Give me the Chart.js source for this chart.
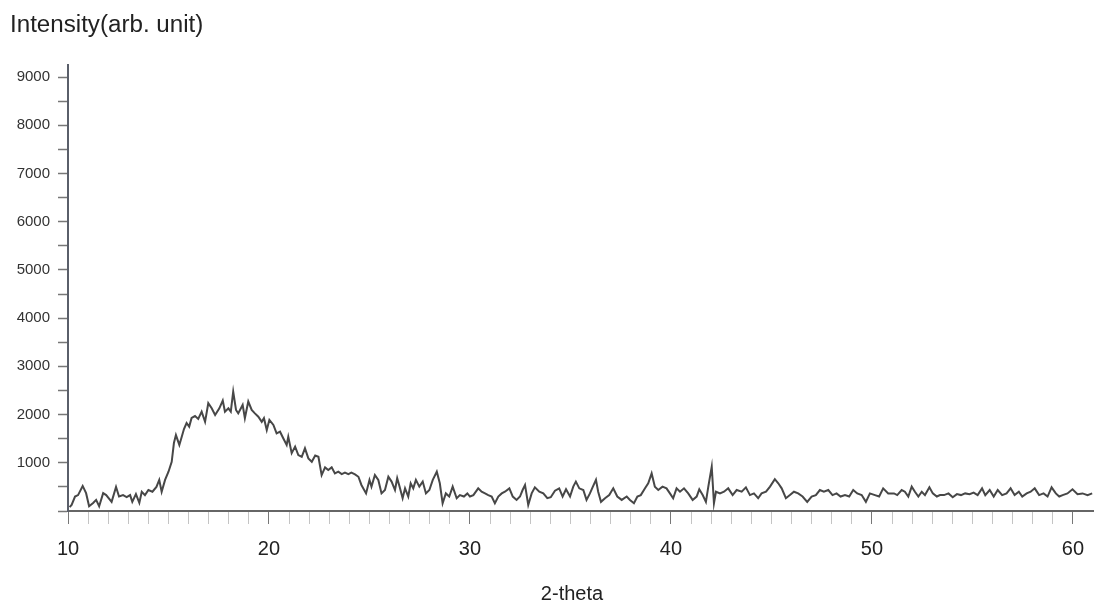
<!DOCTYPE html>
<html>
<head>
<meta charset="utf-8">
<title>XRD pattern</title>
<script src="https://cdn.jsdelivr.net/npm/chart.js@4.4.1/dist/chart.umd.min.js"></script>
<style>
  html, body { margin: 0; padding: 0; background: #fff; overflow: hidden; }
  #wrap { width: 1094px; height: 604px; position: relative; overflow: hidden; }
</style>
</head>
<body>
<div id="wrap"><canvas id="xrdChart"></canvas></div>
<script>
// 2-theta positions (degrees)
const twoTheta = [
  10.08, 10.18, 10.35, 10.5, 10.73, 10.9, 11.05, 11.25, 11.4, 11.55,
  11.75, 11.9, 12.17, 12.39, 12.54, 12.74, 12.92, 13.09, 13.2, 13.38,
  13.55, 13.67, 13.83, 14.0, 14.2, 14.4, 14.54, 14.66, 14.83, 15.0,
  15.16, 15.27, 15.37, 15.54, 15.66, 15.77, 15.9, 16.03, 16.15, 16.32,
  16.48, 16.65, 16.82, 16.98, 17.15, 17.32, 17.53, 17.7, 17.81, 17.98,
  18.1, 18.22, 18.36, 18.47, 18.69, 18.8, 18.97, 19.14, 19.3, 19.47,
  19.64, 19.75, 19.89, 20.02, 20.22, 20.38, 20.55, 20.71, 20.88, 20.96,
  21.13, 21.3, 21.46, 21.63, 21.79, 21.96, 22.13, 22.3, 22.46, 22.62,
  22.79, 22.95, 23.12, 23.28, 23.45, 23.62, 23.78, 23.95, 24.1, 24.28,
  24.45, 24.6, 24.83, 25.0, 25.1, 25.27, 25.44, 25.6, 25.77, 25.94,
  26.1, 26.27, 26.38, 26.5, 26.65, 26.77, 26.93, 27.05, 27.18, 27.31,
  27.48, 27.65, 27.81, 27.98, 28.15, 28.35, 28.5, 28.64, 28.8, 28.97,
  29.14, 29.34, 29.5, 29.7, 29.87, 30.0, 30.17, 30.41, 30.58, 30.75,
  30.91, 31.08, 31.24, 31.41, 31.58, 31.74, 31.96, 32.13, 32.32, 32.49,
  32.62, 32.74, 32.9, 33.07, 33.23, 33.45, 33.65, 33.85, 34.02, 34.23,
  34.44, 34.61, 34.78, 34.98, 35.14, 35.27, 35.44, 35.64, 35.8, 35.97,
  36.1, 36.27, 36.38, 36.52, 36.72, 36.93, 37.13, 37.33, 37.55, 37.8,
  37.96, 38.16, 38.33, 38.5, 38.71, 38.87, 39.04, 39.2, 39.37, 39.58,
  39.78, 39.95, 40.11, 40.28, 40.45, 40.65, 40.86, 41.08, 41.28, 41.41,
  41.58, 41.74, 41.86, 42.03, 42.14, 42.24, 42.44, 42.64, 42.85, 43.07,
  43.27, 43.52, 43.73, 43.93, 44.13, 44.34, 44.51, 44.73, 44.93, 45.17,
  45.34, 45.51, 45.72, 45.92, 46.12, 46.33, 46.55, 46.78, 47.0, 47.21,
  47.41, 47.61, 47.83, 48.04, 48.24, 48.44, 48.66, 48.87, 49.07, 49.27,
  49.49, 49.7, 49.9, 50.15, 50.36, 50.56, 50.81, 51.1, 51.26, 51.48,
  51.64, 51.81, 51.98, 52.14, 52.31, 52.48, 52.64, 52.86, 53.03, 53.23,
  53.39, 53.59, 53.81, 54.02, 54.23, 54.43, 54.64, 54.86, 55.06, 55.26,
  55.48, 55.64, 55.86, 56.06, 56.26, 56.48, 56.7, 56.9, 57.1, 57.31,
  57.48, 57.7, 57.9, 58.1, 58.32, 58.54, 58.74, 58.94, 59.15, 59.32,
  59.49, 59.73, 59.98, 60.23, 60.48, 60.73, 60.96
];

// intensity (arb. unit), same order as twoTheta
const intensity = [
  80, 125, 300, 330, 520, 370, 100, 165, 230, 100,
  370, 330, 190, 500, 300, 330, 290, 330, 190, 350,
  170, 400, 330, 435, 400, 500, 645, 400, 645, 815,
  1020, 1410, 1575, 1370, 1540, 1700, 1825, 1750, 1930, 1970,
  1910, 2060, 1850, 2235, 2130, 1990, 2130, 2290, 2060, 2130,
  2060, 2475, 2095, 2025, 2200, 1925, 2270, 2095, 2025, 1955,
  1850, 1925, 1680, 1890, 1785, 1610, 1645, 1510, 1370, 1540,
  1200, 1335, 1160, 1125, 1300, 1090, 1020, 1150, 1125, 745,
  905, 850, 905, 780, 815, 765, 795, 765, 795, 760,
  710, 540, 365, 645, 505, 745, 645, 365, 435, 710,
  610, 435, 680, 505, 265, 470, 300, 575, 470, 645,
  505, 610, 365, 435, 645, 815, 575, 160, 365, 300,
  505, 265, 330, 300, 365, 300, 330, 470, 400, 365,
  330, 300, 160, 300, 365, 400, 470, 300, 230, 300,
  435, 540, 125, 365, 490, 400, 365, 265, 285, 420,
  470, 300, 450, 300, 505, 610, 470, 435, 230, 365,
  490, 645, 400, 190, 265, 330, 470, 300, 230, 300,
  230, 160, 300, 330, 470, 575, 780, 505, 435, 505,
  470, 365, 265, 470, 400, 470, 365, 230, 300, 450,
  330, 190, 505, 920, 160, 400, 365, 400, 470, 330,
  435, 400, 490, 330, 365, 265, 365, 400, 505, 660,
  575, 470, 265, 330, 400, 365, 300, 190, 300, 330,
  435, 400, 435, 330, 365, 300, 330, 300, 435, 365,
  330, 190, 365, 330, 300, 470, 365, 365, 330, 435,
  400, 300, 505, 400, 300, 400, 330, 490, 365, 300,
  330, 330, 365, 285, 350, 330, 365, 350, 380, 330,
  470, 330, 435, 300, 435, 330, 365, 470, 330, 400,
  300, 365, 400, 470, 330, 365, 300, 490, 365, 300,
  330, 365, 450, 350, 365, 330, 365
];

// axis ranges and ticks
const xRange = [10, 61.05];
const yRange = [0, 9250];
const xTickValues = [10, 11, 12, 13, 14, 15, 16, 17, 18, 19, 20, 21, 22, 23, 24, 25,
  26, 27, 28, 29, 30, 31, 32, 33, 34, 35, 36, 37, 38, 39, 40, 41, 42, 43, 44, 45,
  46, 47, 48, 49, 50, 51, 52, 53, 54, 55, 56, 57, 58, 59, 60];
const xLabelTicks = [10, 20, 30, 40, 50, 60];
const yTickValues = [0, 500, 1000, 1500, 2000, 2500, 3000, 3500, 4000, 4500,
  5000, 5500, 6000, 6500, 7000, 7500, 8000, 8500, 9000];
const yLabelTicks = [1000, 2000, 3000, 4000, 5000, 6000, 7000, 8000, 9000];

const yTitle = 'Intensity(arb. unit)';
const xTitle = '2-theta';

if (twoTheta.length !== intensity.length) {
  console.log('length mismatch', twoTheta.length, intensity.length);
}

// free-standing axis titles (horizontal, like the scan)
const titlesPlugin = {
  id: 'titles',
  afterDraw(chart) {
    const ctx = chart.ctx;
    ctx.save();
    ctx.fillStyle = '#222';
    ctx.textBaseline = 'alphabetic';
    ctx.font = '23px "Liberation Sans", Arial, sans-serif';
    ctx.translate(10, 32);
    ctx.scale(1.05, 1);
    ctx.fillText(yTitle, 0, 0);
    ctx.restore();

    ctx.save();
    ctx.fillStyle = '#222';
    ctx.font = '20px "Liberation Sans", Arial, sans-serif';
    ctx.textAlign = 'center';
    ctx.textBaseline = 'alphabetic';
    ctx.fillText(xTitle, 572, 600);
    ctx.restore();
  }
};

const ctx = document.getElementById('xrdChart');

new Chart(ctx, {
  type: 'line',
  data: {
    datasets: [{
      label: 'XRD',
      data: twoTheta.map((t, i) => ({ x: t, y: intensity[i] })),
      borderColor: '#474747',
      borderWidth: 2,
      pointRadius: 0,
      tension: 0,
      fill: false
    }]
  },
  options: {
    responsive: true,
    maintainAspectRatio: false,
    animation: false,
    layout: {
      padding: { top: 65, left: 0, right: 0, bottom: 0 }
    },
    plugins: {
      legend: { display: false },
      tooltip: { enabled: false }
    },
    scales: {
      x: {
        type: 'linear',
        min: xRange[0],
        max: xRange[1],
        afterFit: function(scale) { scale.height = 93; },
        afterBuildTicks: function(scale) {
          scale.ticks = xTickValues.map(v => ({ value: v }));
        },
        ticks: {
          autoSkip: false,
          maxRotation: 0,
          // labels pushed down with line height so no extra right padding is reserved
          padding: 0,
          color: '#222',
          font: { family: '"Liberation Sans", Arial, sans-serif', size: 20, lineHeight: 2.5 },
          callback: function(value) {
            return xLabelTicks.includes(value) ? String(value) : '';
          }
        },
        grid: {
          drawOnChartArea: false,
          drawTicks: true,
          tickLength: 13,
          tickColor: function(c) {
            return c.tick && c.tick.value % 10 === 0 ? '#777' : '#c4c4c4';
          },
          tickWidth: 1
        },
        border: { color: '#666', width: 2 }
      },
      y: {
        type: 'linear',
        min: yRange[0],
        max: yRange[1],
        afterFit: function(scale) { scale.width = 68; },
        afterBuildTicks: function(scale) {
          scale.ticks = yTickValues.map(v => ({ value: v }));
        },
        ticks: {
          autoSkip: false,
          padding: 8,
          color: '#333',
          font: { family: '"Liberation Sans", Arial, sans-serif', size: 15 },
          callback: function(value) {
            return yLabelTicks.includes(value) ? String(value) : '';
          }
        },
        grid: {
          drawOnChartArea: false,
          drawTicks: true,
          tickLength: 10,
          tickColor: '#777',
          tickWidth: 1.5
        },
        border: { color: '#5a5f6a', width: 2 }
      }
    }
  },
  plugins: [titlesPlugin]
});
</script>
</body>
</html>
